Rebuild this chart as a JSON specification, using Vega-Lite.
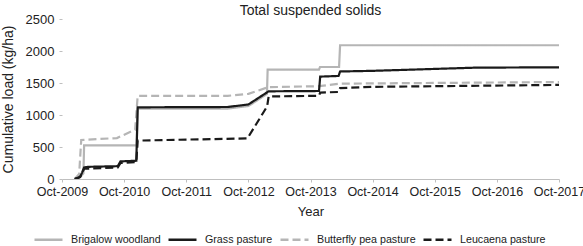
{
  "$schema": "https://vega.github.io/schema/vega-lite/v6.json",
  "width": 497,
  "height": 160,
  "autosize": {"type": "none"},
  "padding": {"left": 62, "top": 19, "right": 24, "bottom": 67},
  "background": "white",
  "title": {
    "text": "Total suspended solids",
    "font": "Liberation Sans",
    "fontSize": 14,
    "fontWeight": "normal",
    "color": "#222222",
    "frame": "group",
    "anchor": "middle",
    "baseline": "alphabetic",
    "offset": 0,
    "dy": 16
  },
  "config": {
    "view": {"stroke": null},
    "font": "Liberation Sans"
  },
  "data": {
    "values": [
      {"site": "Brigalow woodland", "date": "2009-12-15", "load": 0},
      {"site": "Brigalow woodland", "date": "2010-01-20", "load": 40},
      {"site": "Brigalow woodland", "date": "2010-02-04", "load": 90},
      {"site": "Brigalow woodland", "date": "2010-02-08", "load": 525},
      {"site": "Brigalow woodland", "date": "2010-12-14", "load": 525},
      {"site": "Brigalow woodland", "date": "2010-12-20", "load": 1100},
      {"site": "Brigalow woodland", "date": "2012-06-01", "load": 1100},
      {"site": "Brigalow woodland", "date": "2012-10-01", "load": 1140},
      {"site": "Brigalow woodland", "date": "2013-01-18", "load": 1330},
      {"site": "Brigalow woodland", "date": "2013-01-22", "load": 1710},
      {"site": "Brigalow woodland", "date": "2013-11-20", "load": 1710},
      {"site": "Brigalow woodland", "date": "2013-11-26", "load": 1750},
      {"site": "Brigalow woodland", "date": "2014-03-18", "load": 1750},
      {"site": "Brigalow woodland", "date": "2014-03-24", "load": 2090},
      {"site": "Brigalow woodland", "date": "2017-10-01", "load": 2090},

      {"site": "Butterfly pea pasture", "date": "2009-12-15", "load": 0},
      {"site": "Butterfly pea pasture", "date": "2010-01-10", "load": 80},
      {"site": "Butterfly pea pasture", "date": "2010-01-22", "load": 610},
      {"site": "Butterfly pea pasture", "date": "2010-08-20", "load": 640},
      {"site": "Butterfly pea pasture", "date": "2010-12-05", "load": 770},
      {"site": "Butterfly pea pasture", "date": "2010-12-20", "load": 1300},
      {"site": "Butterfly pea pasture", "date": "2012-06-01", "load": 1300},
      {"site": "Butterfly pea pasture", "date": "2012-10-01", "load": 1330},
      {"site": "Butterfly pea pasture", "date": "2013-01-25", "load": 1435},
      {"site": "Butterfly pea pasture", "date": "2013-11-20", "load": 1450},
      {"site": "Butterfly pea pasture", "date": "2014-03-24", "load": 1490},
      {"site": "Butterfly pea pasture", "date": "2017-10-01", "load": 1515},

      {"site": "Grass pasture", "date": "2009-12-15", "load": 0},
      {"site": "Grass pasture", "date": "2010-01-15", "load": 30},
      {"site": "Grass pasture", "date": "2010-01-27", "load": 100},
      {"site": "Grass pasture", "date": "2010-02-08", "load": 180},
      {"site": "Grass pasture", "date": "2010-03-01", "load": 190},
      {"site": "Grass pasture", "date": "2010-08-25", "load": 200},
      {"site": "Grass pasture", "date": "2010-09-10", "load": 275},
      {"site": "Grass pasture", "date": "2010-12-12", "load": 285},
      {"site": "Grass pasture", "date": "2010-12-20", "load": 1120},
      {"site": "Grass pasture", "date": "2012-06-01", "load": 1125},
      {"site": "Grass pasture", "date": "2012-10-01", "load": 1165},
      {"site": "Grass pasture", "date": "2013-01-28", "load": 1370},
      {"site": "Grass pasture", "date": "2013-11-20", "load": 1375},
      {"site": "Grass pasture", "date": "2013-11-27", "load": 1600},
      {"site": "Grass pasture", "date": "2014-03-15", "load": 1610},
      {"site": "Grass pasture", "date": "2014-03-24", "load": 1680},
      {"site": "Grass pasture", "date": "2014-10-01", "load": 1690},
      {"site": "Grass pasture", "date": "2016-06-01", "load": 1740},
      {"site": "Grass pasture", "date": "2017-10-01", "load": 1745},

      {"site": "Leucaena pasture", "date": "2009-12-15", "load": 0},
      {"site": "Leucaena pasture", "date": "2010-01-15", "load": 30},
      {"site": "Leucaena pasture", "date": "2010-01-27", "load": 90},
      {"site": "Leucaena pasture", "date": "2010-02-08", "load": 160},
      {"site": "Leucaena pasture", "date": "2010-08-25", "load": 180},
      {"site": "Leucaena pasture", "date": "2010-09-10", "load": 250},
      {"site": "Leucaena pasture", "date": "2010-12-12", "load": 265},
      {"site": "Leucaena pasture", "date": "2010-12-20", "load": 600},
      {"site": "Leucaena pasture", "date": "2012-09-25", "load": 635},
      {"site": "Leucaena pasture", "date": "2012-11-20", "load": 875},
      {"site": "Leucaena pasture", "date": "2013-01-19", "load": 1135},
      {"site": "Leucaena pasture", "date": "2013-01-28", "load": 1290},
      {"site": "Leucaena pasture", "date": "2013-11-20", "load": 1300},
      {"site": "Leucaena pasture", "date": "2013-11-27", "load": 1350},
      {"site": "Leucaena pasture", "date": "2014-03-15", "load": 1360},
      {"site": "Leucaena pasture", "date": "2014-03-24", "load": 1420},
      {"site": "Leucaena pasture", "date": "2014-10-01", "load": 1440},
      {"site": "Leucaena pasture", "date": "2017-10-01", "load": 1470}
    ]
  },
  "mark": {"type": "line", "strokeWidth": 2.2, "clip": true},
  "encoding": {
    "x": {
      "field": "date",
      "type": "temporal",
      "scale": {
        "type": "utc",
        "domain": [
          {"year": 2009, "month": 10, "date": 1, "utc": true},
          {"year": 2017, "month": 10, "date": 1, "utc": true}
        ],
        "nice": false
      },
      "axis": {
        "title": "Year",
        "values": [
          {"year": 2009, "month": 10, "date": 1, "utc": true},
          {"year": 2010, "month": 10, "date": 1, "utc": true},
          {"year": 2011, "month": 10, "date": 1, "utc": true},
          {"year": 2012, "month": 10, "date": 1, "utc": true},
          {"year": 2013, "month": 10, "date": 1, "utc": true},
          {"year": 2014, "month": 10, "date": 1, "utc": true},
          {"year": 2015, "month": 10, "date": 1, "utc": true},
          {"year": 2016, "month": 10, "date": 1, "utc": true},
          {"year": 2017, "month": 10, "date": 1, "utc": true}
        ],
        "labelExpr": "utcFormat(datum.value, '%b-%Y')",
        "grid": false,
        "domain": true,
        "domainColor": "#bfbfbf",
        "domainWidth": 1.2,
        "ticks": true,
        "tickColor": "#bfbfbf",
        "tickSize": 3,
        "labelFontSize": 12.5,
        "labelColor": "#222222",
        "labelPadding": 3,
        "labelFlush": false,
        "labelOverlap": false,
        "titleFontSize": 13,
        "titleFontWeight": "normal",
        "titleColor": "#222222",
        "titlePadding": 8
      }
    },
    "y": {
      "field": "load",
      "type": "quantitative",
      "scale": {"domain": [0, 2500], "nice": false},
      "axis": {
        "title": "Cumulative load (kg/ha)",
        "values": [0, 500, 1000, 1500, 2000, 2500],
        "format": "d",
        "grid": false,
        "domain": false,
        "ticks": true,
        "tickColor": "#bfbfbf",
        "tickSize": 3,
        "labelFontSize": 13,
        "labelColor": "#222222",
        "labelPadding": 5,
        "titleFontSize": 14,
        "titleFontWeight": "normal",
        "titleColor": "#222222",
        "titlePadding": 10
      }
    },
    "color": {
      "field": "site",
      "type": "nominal",
      "scale": {
        "domain": ["Brigalow woodland", "Grass pasture", "Butterfly pea pasture", "Leucaena pasture"],
        "range": ["#b5b5b5", "#1a1a1a", "#b5b5b5", "#1a1a1a"]
      },
      "legend": {
        "title": null,
        "orient": "none",
        "direction": "horizontal",
        "legendX": -29,
        "legendY": 205,
        "symbolType": "stroke",
        "symbolSize": 784,
        "symbolStrokeWidth": 2.5,
        "labelFontSize": 10.7,
        "labelColor": "#222222",
        "labelOffset": 7,
        "columnPadding": 2,
        "padding": 0,
        "labelLimit": 200
      }
    },
    "strokeDash": {
      "field": "site",
      "type": "nominal",
      "scale": {
        "domain": ["Brigalow woodland", "Grass pasture", "Butterfly pea pasture", "Leucaena pasture"],
        "range": [[1, 0], [1, 0], [8, 4], [8, 4]]
      },
      "legend": {
        "title": null,
        "orient": "none",
        "direction": "horizontal",
        "legendX": -29,
        "legendY": 205,
        "symbolType": "stroke",
        "symbolSize": 784,
        "symbolStrokeWidth": 2.5,
        "labelFontSize": 10.7,
        "labelColor": "#222222",
        "labelOffset": 7,
        "columnPadding": 2,
        "padding": 0,
        "labelLimit": 200
      }
    }
  }
}
